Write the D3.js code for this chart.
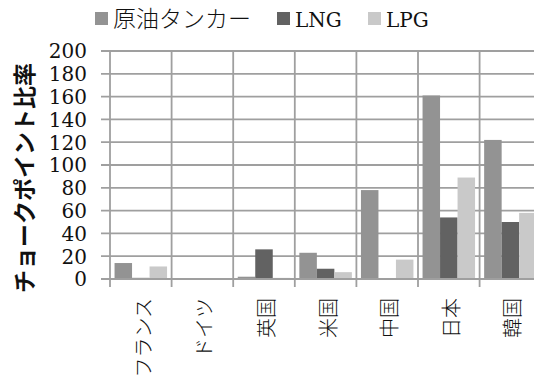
<!DOCTYPE html>
<html>
<head>
<meta charset="utf-8">
<script src="https://cdn.jsdelivr.net/npm/d3@7"></script>
<style>
  html, body { margin: 0; padding: 0; background: #fff; }
  svg { display: block; }
  text { fill: #111; }
</style>
</head>
<body>
<div id="chart"></div>
<script>
// Countries along the x axis
const categories = ["フランス", "ドイツ", "英国", "米国", "中国", "日本", "韓国"];
// Series names
const seriesNames = ["原油タンカー", "LNG", "LPG"];
// Values per series, one per country
const crudeValues = [14, 0, 2, 23, 78, 161, 122];
const lngValues = [1, 0, 26, 9, 0, 54, 50];
const lpgValues = [11, 0, 1, 6, 17, 89, 58];
// Y axis ticks
const yTicks = [0, 20, 40, 60, 80, 100, 120, 140, 160, 180, 200];
const yTitle = "チョークポイント比率";

const seriesValues = [crudeValues, lngValues, lpgValues];
const colors = ["#939393", "#626262", "#c9c9c9"];
const serifFont = "DejaVu Serif";
const cjkFont = "Noto Sans CJK JP";

const W = 534, H = 387;
const plotLeft = 110, plotTop = 51, plotBottom = 279;
const bandW = 61.6;
const plotRight = plotLeft + bandW * categories.length;

const svg = d3.select("#chart").append("svg")
  .attr("width", W).attr("height", H);

const x = d3.scaleBand().domain(categories).range([plotLeft, plotRight]).paddingInner(0).paddingOuter(0);
const xs = d3.scaleBand().domain(seriesNames).range([0, x.bandwidth()]).paddingOuter(0.26).paddingInner(0);
const y = d3.scaleLinear().domain([0, 200]).range([plotBottom, plotTop]);

const gridColor = "#9f9f9f";

// Horizontal gridlines, with short ticks to the left of the axis
svg.append("g").selectAll("line").data(yTicks).join("line")
  .attr("x1", plotLeft - 9).attr("x2", plotRight)
  .attr("y1", d => y(d)).attr("y2", d => y(d))
  .attr("stroke", gridColor).attr("stroke-width", 1.8);

// Vertical category dividers, extending below the baseline
const bounds = categories.map(c => x(c)).concat([plotRight]);
svg.append("g").selectAll("line").data(bounds).join("line")
  .attr("x1", d => d).attr("x2", d => d)
  .attr("y1", plotTop).attr("y2", plotBottom + 8)
  .attr("stroke", gridColor).attr("stroke-width", 1.8);

// Bars
const groups = svg.append("g").selectAll("g").data(categories).join("g")
  .attr("transform", c => `translate(${x(c)},0)`);
groups.selectAll("rect")
  .data((c, i) => seriesNames.map((s, k) => ({ s, k, v: seriesValues[k][i] })))
  .join("rect")
  .attr("x", d => xs(d.s))
  .attr("width", xs.bandwidth())
  .attr("y", d => y(d.v))
  .attr("height", d => plotBottom - y(d.v))
  .attr("fill", d => colors[d.k]);

// Baseline
svg.append("line")
  .attr("x1", plotLeft - 9).attr("x2", plotRight)
  .attr("y1", plotBottom).attr("y2", plotBottom)
  .attr("stroke", gridColor).attr("stroke-width", 1.8);

// Y tick labels
const yAxis = d3.axisLeft(y).tickValues(yTicks).tickSize(0).tickPadding(0);
const yg = svg.append("g").attr("transform", `translate(${plotLeft - 23},0)`).call(yAxis);
yg.attr("font-family", serifFont).attr("font-size", 20);
yg.select(".domain").remove();
yg.selectAll("text")
  .style("font-family", serifFont)
  .style("font-size", "20px")
  .style("fill", "#111").attr("dy", "0.34em");

// Y axis title
svg.append("text")
  .attr("transform", "translate(33,178) rotate(-90)")
  .attr("text-anchor", "middle")
  .style("font-size", "23px").style("font-weight", "bold")
  .style("font-family", cjkFont)
  .text(yTitle);

// Category labels, rotated and anchored just below the axis
svg.append("g").selectAll("text").data(categories).join("text")
  .attr("transform", c => `translate(${x(c) + x.bandwidth() / 2 + 10},298) rotate(-90)`)
  .attr("text-anchor", "end")
  .style("font-size", "20px")
  .style("font-family", cjkFont)
  .style("font-weight", 300)
  .text(c => c);

// Legend
const legendItems = [
  { name: seriesNames[0], color: colors[0], x: 95, font: cjkFont, size: 23 },
  { name: seriesNames[1], color: colors[1], x: 277, font: serifFont, size: 20 },
  { name: seriesNames[2], color: colors[2], x: 368, font: serifFont, size: 20 }
];
const lg = svg.append("g").selectAll("g").data(legendItems).join("g")
  .attr("transform", d => `translate(${d.x},0)`);
lg.append("rect").attr("x", 0).attr("y", 12).attr("width", 13).attr("height", 13)
  .attr("fill", d => d.color);
lg.append("text").attr("x", 18).attr("y", 27)
  .style("font-family", d => d.font)
  .style("font-size", d => d.size + "px")
  .style("font-weight", 300)
  .text(d => d.name);
</script>
</body>
</html>
